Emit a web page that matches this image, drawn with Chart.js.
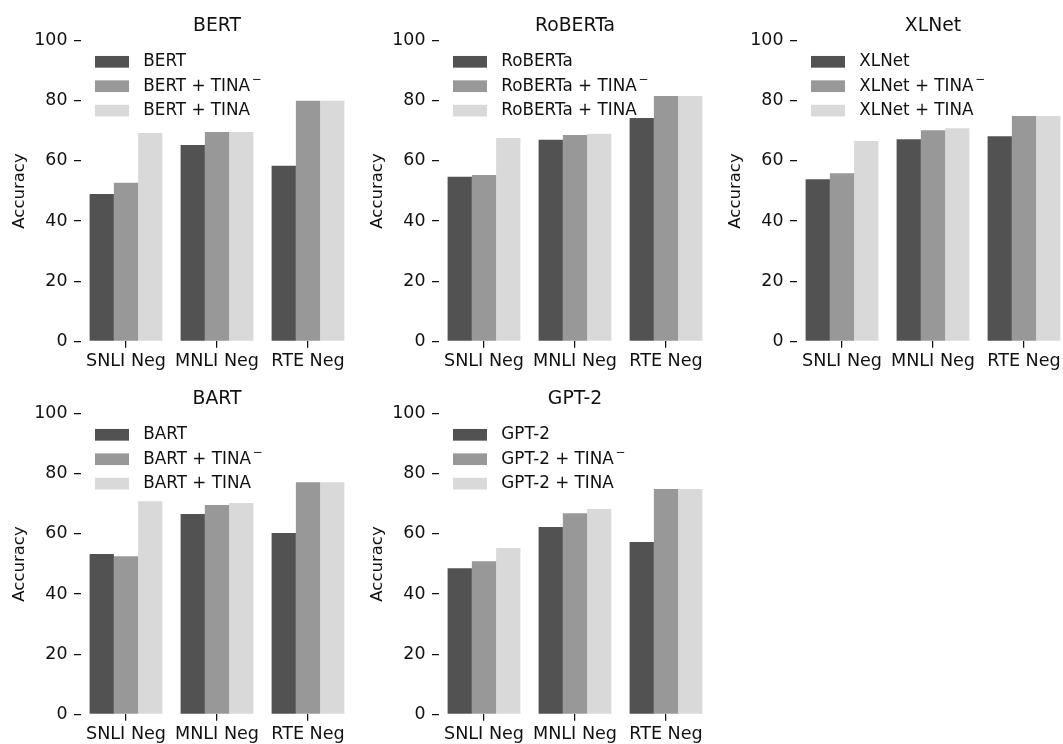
<!DOCTYPE html>
<html><head><meta charset="utf-8">
<script src="https://cdn.jsdelivr.net/npm/chart.js@4/dist/chart.umd.min.js"></script>
<style>
html,body{margin:0;padding:0;background:#fff;overflow:hidden;width:1063px;height:744px;position:relative;}
canvas{position:absolute;display:block;}
</style></head><body>
<canvas id="c0" width="361" height="372" style="left:0px;top:0px"></canvas>
<canvas id="c1" width="361" height="372" style="left:358px;top:0px"></canvas>
<canvas id="c2" width="361" height="372" style="left:716px;top:0px"></canvas>
<canvas id="c3" width="361" height="372" style="left:0px;top:373px"></canvas>
<canvas id="c4" width="361" height="372" style="left:358px;top:373px"></canvas>
<script>
// ---- data ----
const categories = ['SNLI Neg', 'MNLI Neg', 'RTE Neg'];
const yTicks = [0, 20, 40, 60, 80, 100];
const modelNames = ['BERT', 'RoBERTa', 'XLNet', 'BART', 'GPT-2'];

const bertBase      = [49.0, 65.3, 58.4];
const bertTinaMinus = [52.7, 69.6, 80.0];
const bertTina      = [69.3, 69.6, 80.0];

const robertaBase      = [54.7, 67.0, 74.3];
const robertaTinaMinus = [55.3, 68.6, 81.6];
const robertaTina      = [67.6, 69.0, 81.6];

const xlnetBase      = [53.9, 67.2, 68.2];
const xlnetTinaMinus = [55.9, 70.2, 74.9];
const xlnetTina      = [66.6, 70.9, 74.9];

const bartBase      = [53.3, 66.6, 60.3];
const bartTinaMinus = [52.6, 69.6, 77.2];
const bartTina      = [70.9, 70.3, 77.2];

const gpt2Base      = [48.6, 62.3, 57.3];
const gpt2TinaMinus = [50.9, 66.9, 74.9];
const gpt2Tina      = [55.3, 68.3, 74.9];

const seriesColors = ['#525252', '#989898', '#d9d9d9'];
const TEXT = '#111111';
const FONT = 'DejaVu Sans';

const legendPlugin = {
  id: 'insideLegend',
  afterDatasetsDraw(chart, args, o) {
    const {ctx, chartArea} = chart;
    ctx.save();
    chart.data.datasets.forEach((ds, i) => {
      const top = chartArea.top + o.offsetY + i * o.rowGap;
      const x = chartArea.left + o.offsetX;
      ctx.fillStyle = ds.backgroundColor;
      ctx.fillRect(x, top, o.boxW, o.boxH);
      ctx.fillStyle = TEXT;
      ctx.font = o.size + 'px "' + FONT + '"';
      ctx.textBaseline = 'middle';
      ctx.textAlign = 'left';
      const cy = top + o.boxH / 2;
      let text = ds.label, sup = '';
      if (text.endsWith('\u207B')) { text = text.slice(0, -1); sup = '\u2212'; }
      const tx = x + o.boxW + o.textGap;
      ctx.fillText(text, tx, cy);
      if (sup) {
        const w = ctx.measureText(text).width;
        ctx.font = (o.size * 0.7) + 'px "' + FONT + '"';
        ctx.fillText(sup, tx + w + 2, cy - o.size * 0.38);
      }
    });
    ctx.restore();
  }
};

function makePanel(canvasId, name, base, minus, tina) {
  const labels = [name, name + ' + TINA\u207B', name + ' + TINA'];
  const vals = [base, minus, tina];
  new Chart(document.getElementById(canvasId), {
    type: 'bar',
    data: {
      labels: categories,
      datasets: vals.map((v, i) => ({
        label: labels[i],
        data: v,
        backgroundColor: seriesColors[i],
        borderWidth: 0,
        categoryPercentage: 0.8,
        barPercentage: 1.0
      }))
    },
    plugins: [legendPlugin],
    options: {
      responsive: false,
      animation: false,
      layout: {padding: {left: 0, right: 7.5, top: 0, bottom: 0}},
      plugins: {
        legend: {display: false},
        tooltip: {enabled: false},
        title: {
          display: true, text: name, fullSize: false, color: TEXT,
          font: {family: FONT, size: 18.8, weight: 'normal', lineHeight: 1.2},
          padding: {top: 14.4, bottom: 3.7}
        },
        insideLegend: {offsetX: 14.5, offsetY: 15.3, rowGap: 24.4, boxW: 34, boxH: 11.7, textGap: 14.3, size: 16.8}
      },
      scales: {
        x: {
          type: 'category',
          offset: true,
          grid: {display: true, offset: false, drawOnChartArea: false, drawTicks: true, tickLength: 6.5, color: TEXT, lineWidth: 1.25},
          border: {display: false},
          ticks: {color: TEXT, padding: 3.5, font: {family: FONT, size: 17.6, lineHeight: 1.2}, maxRotation: 0, autoSkip: false},
          afterFit: (s) => { s.height = 30.7; }
        },
        y: {
          min: 0, max: 100,
          afterBuildTicks: (s) => { s.ticks = yTicks.map(v => ({value: v})); },
          grid: {display: true, drawOnChartArea: false, drawTicks: true, tickLength: 6.5, color: TEXT, lineWidth: 1.25},
          border: {display: false},
          ticks: {color: TEXT, padding: 6.5, font: {family: FONT, size: 17.4, lineHeight: 1.2}},
          title: {display: true, text: 'Accuracy', color: TEXT, font: {family: FONT, size: 16.5, lineHeight: 1.2}, padding: {top: 9.5, bottom: 0}},
          afterFit: (s) => { s.width = 80.5; }
        }
      }
    }
  });
}

makePanel('c0', modelNames[0], bertBase, bertTinaMinus, bertTina);
makePanel('c1', modelNames[1], robertaBase, robertaTinaMinus, robertaTina);
makePanel('c2', modelNames[2], xlnetBase, xlnetTinaMinus, xlnetTina);
makePanel('c3', modelNames[3], bartBase, bartTinaMinus, bartTina);
makePanel('c4', modelNames[4], gpt2Base, gpt2TinaMinus, gpt2Tina);
</script>
</body></html>
